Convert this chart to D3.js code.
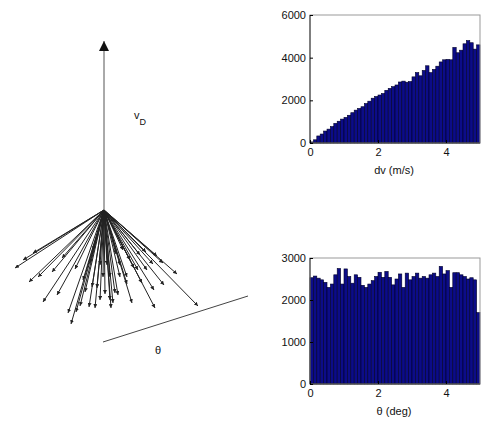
<!DOCTYPE html>
<head>
  <meta charset="utf-8">
  <title>dv and theta histograms</title>
  <script src="https://d3js.org/d3.v7.min.js"></script>
  <style type="text/css">
    body {margin: 0; background: #fff;}
    text {font-family: 'Liberation Sans', Arial, sans-serif; fill: #111;}
  </style>
</head>
<body>
  <div id="viz"></div>
</body>
<script type="text/javascript">

  // histogram of dv (m/s), 50 bins over 0..5
  const dvCounts = [50, 150, 330, 420, 560, 650, 770, 920, 1020, 1120,
    1200, 1300, 1420, 1540, 1620, 1700, 1850, 1960, 2100, 2180,
    2250, 2320, 2470, 2560, 2640, 2720, 2860, 2900, 2850, 2880,
    3100, 3300, 3150, 3400, 3620, 3300, 3450, 3600, 3800, 3900,
    3920, 3900, 4480, 4230, 4350, 4650, 4800, 4700, 4400, 4600];
  const dvTicks = [0, 2, 4];
  const dvCountTicks = [0, 2000, 4000, 6000];

  // histogram of theta (deg), 50 bins over 0..5
  const thCounts = [2530, 2570, 2520, 2480, 2420, 2300, 2380, 2600, 2750, 2380,
    2740, 2560, 2400, 2600, 2540, 2350, 2300, 2380, 2460, 2560,
    2660, 2540, 2680, 2540, 2360, 2500, 2620, 2300, 2640, 2480,
    2560, 2640, 2520, 2560, 2520, 2600, 2640, 2560, 2800, 2620,
    2700, 2300, 2650, 2650, 2600, 2560, 2500, 2530, 2480, 1700];
  const thTicks = [0, 2, 4];
  const thCountTicks = [0, 1000, 2000, 3000];

  // sketch: vertical vector v_D and spread of kick vectors (units, apex at 0,0)
  const vD = 1.69;
  const rays = [
    [-0.89, -0.58], [-0.81, -0.50], [-0.75, -0.72], [-0.71, -0.43], [-0.61, -0.92],
    [-0.52, -0.62], [-0.36, -1.03], [-0.33, -1.14], [-0.29, -0.59], [-0.24, -0.96],
    [-0.21, -0.70], [-0.15, -0.97], [-0.14, -0.53], [-0.12, -0.77], [-0.11, -0.40],
    [-0.07, -0.78], [-0.04, -0.90], [-0.01, -0.67], [-0.04, -0.55], [0.03, -0.55],
    [0.06, -0.90], [0.06, -0.67], [0.09, -0.93], [0.11, -0.83], [0.14, -0.85],
    [0.16, -0.55], [0.16, -0.67], [0.23, -0.67], [0.23, -0.74], [0.28, -0.93],
    [0.30, -0.58], [0.34, -0.60], [0.42, -0.42], [0.43, -0.60], [0.49, -0.54],
    [0.51, -0.98], [0.53, -0.46], [0.59, -0.53], [0.60, -0.75], [0.73, -0.64],
    [0.94, -0.96], [0.19, -0.40], [-0.47, -0.85], [-0.28, -1.02], [-0.19, -0.82],
    [0.01, -0.84], [0.12, -0.44], [-0.66, -0.67], [0.38, -0.73], [0.50, -0.80],
    [-0.42, -0.48], [0.07, -0.98], [-0.09, -0.98], [0.36, -0.45], [0.26, -0.50]];
  const thetaLine = [[-0.01, -1.32], [1.44, -0.86]];

  const W = 481, H = 423;
  const svg = d3.select("#viz").append("svg").attr("width", W).attr("height", H);
  svg.append("rect").attr("width", W).attr("height", H).attr("fill", "#fff");

  function histogram(counts, xTicks, yTicks, top, bottom, xlabel) {
    const x = d3.scaleLinear().domain([0, 5]).range([310, 480]);
    const y = d3.scaleLinear().domain([0, d3.max(yTicks)]).range([bottom, top]);
    const bw = 5 / counts.length;
    const g = svg.append("g");

    g.selectAll("rect.bar").data(counts).join("rect")
      .attr("class", "bar")
      .attr("x", (d, i) => x(i * bw))
      .attr("width", x(bw) - x(0))
      .attr("y", d => y(d))
      .attr("height", d => y(0) - y(d))
      .attr("fill", "#0c0c88")
      .attr("stroke", "#000028")
      .attr("stroke-width", 0.6);

    // frame
    g.append("rect")
      .attr("x", 310).attr("y", top).attr("width", 170).attr("height", bottom - top)
      .attr("fill", "none").attr("stroke", "#999").attr("stroke-width", 1);
    g.append("line").attr("x1", 310).attr("x2", 310).attr("y1", top).attr("y2", bottom)
      .attr("stroke", "#333");
    g.append("line").attr("x1", 310).attr("x2", 480).attr("y1", bottom).attr("y2", bottom)
      .attr("stroke", "#333");

    const ya = g.append("g").attr("transform", "translate(310,0)")
      .call(d3.axisLeft(y).tickValues(yTicks).tickSize(-3).tickPadding(4).tickFormat(d3.format("d")));
    ya.select(".domain").remove();
    ya.selectAll("text").attr("font-size", 11).attr("font-family", "'Liberation Sans', Arial, sans-serif");

    const xa = g.append("g").attr("transform", "translate(0," + bottom + ")")
      .call(d3.axisBottom(x).tickValues(xTicks).tickSize(-3).tickPadding(5).tickFormat(d3.format("d")));
    xa.select(".domain").remove();
    xa.selectAll("text").attr("font-size", 11).attr("font-family", "'Liberation Sans', Arial, sans-serif");

    g.append("text").attr("x", 394).attr("y", bottom + 31)
      .attr("text-anchor", "middle").attr("font-size", 11).text(xlabel);
  }

  histogram(dvCounts, dvTicks, dvCountTicks, 15, 143, "dv (m/s)");
  histogram(thCounts, thTicks, thCountTicks, 258, 384, "\u03b8 (deg)");

  // left sketch
  const sx = d3.scaleLinear().domain([0, 1]).range([104, 204]);
  const sy = d3.scaleLinear().domain([0, 1]).range([210, 110]);
  const sk = svg.append("g");

  const defs = svg.append("defs");
  defs.append("marker").attr("id", "big").attr("viewBox", "0 0 10 10")
    .attr("refX", 10).attr("refY", 5).attr("markerWidth", 10).attr("markerHeight", 16)
    .attr("markerUnits", "userSpaceOnUse").attr("orient", "auto")
    .append("path").attr("d", "M0,0 L10,5 L0,10 Z").attr("fill", "#111");
  defs.append("marker").attr("id", "small").attr("viewBox", "0 0 10 10")
    .attr("refX", 10).attr("refY", 5).attr("markerWidth", 4).attr("markerHeight", 4)
    .attr("markerUnits", "userSpaceOnUse").attr("orient", "auto")
    .append("path").attr("d", "M0,0 L10,5 L0,10 Z").attr("fill", "#222");

  sk.selectAll("line.ray").data(rays).join("line")
    .attr("class", "ray")
    .attr("x1", sx(0)).attr("y1", sy(0))
    .attr("x2", d => sx(d[0])).attr("y2", d => sy(d[1]))
    .attr("stroke", "#222").attr("stroke-width", 1)
    .attr("marker-end", "url(#small)");

  sk.append("line")
    .attr("x1", sx(0)).attr("y1", sy(0)).attr("x2", sx(0)).attr("y2", sy(vD))
    .attr("stroke", "#555").attr("stroke-width", 1)
    .attr("marker-end", "url(#big)");

  sk.append("line")
    .attr("x1", sx(thetaLine[0][0])).attr("y1", sy(thetaLine[0][1]))
    .attr("x2", sx(thetaLine[1][0])).attr("y2", sy(thetaLine[1][1]))
    .attr("stroke", "#444").attr("stroke-width", 1);

  const vl = sk.append("text").attr("x", sx(0.30)).attr("y", sy(0.91)).attr("font-size", 11);
  vl.append("tspan").text("v");
  vl.append("tspan").attr("dy", 6).attr("font-size", 9).text("D");

  sk.append("text").attr("x", sx(0.54)).attr("y", sy(-1.44))
    .attr("text-anchor", "middle").attr("font-size", 11).text("\u03b8");

</script>
</html>
